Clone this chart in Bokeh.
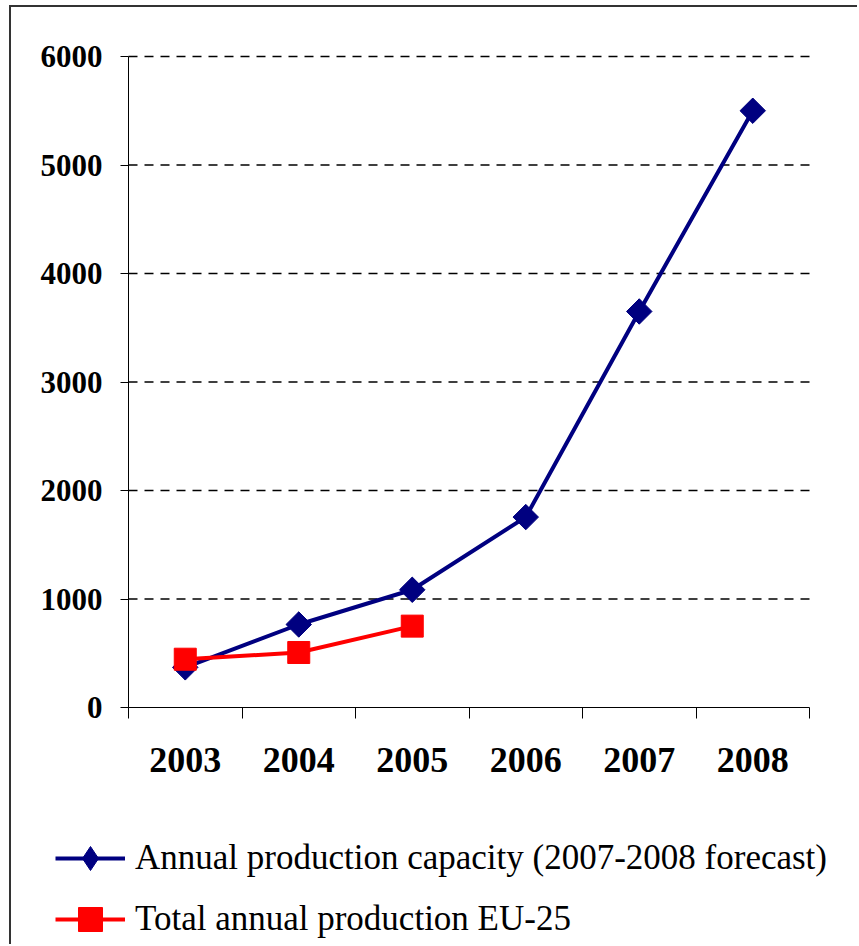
from math import pi

from bokeh.embed import file_html
from bokeh.models import FixedTicker, Legend, LegendItem, LinearAxis, Range1d
from bokeh.plotting import figure
from bokeh.resources import INLINE

# Categories and values
years = ["2003", "2004", "2005", "2006", "2007", "2008"]
capacity = [370, 765, 1085, 1755, 3650, 5500]      # annual production capacity
production = [445, 507, 750]                        # total annual production EU-25
y_ticks = [0, 1000, 2000, 3000, 4000, 5000, 6000]

NAVY = "#000080"
RED = "#FF0000"
SERIF = "Liberation Serif"

# canvas and plotting-box geometry (pixels); the frame fills the whole canvas so
# the legend underneath the axes is not clipped
W, H = 848, 939
BOX_LEFT, BOX_RIGHT = 117, 798
BOX_TOP, BOX_BOTTOM = 49, 700
y_max = 6000

n = len(years)
px_x = (BOX_RIGHT - BOX_LEFT) / n
px_y = (BOX_BOTTOM - BOX_TOP) / y_max
x_range = Range1d(-BOX_LEFT / px_x, n + (W - BOX_RIGHT) / px_x)
y_range = Range1d(-(H - BOX_BOTTOM) / px_y, y_max + BOX_TOP / px_y)

# category centres on a numeric axis so the tick marks can sit between them
x_cap = [i + 0.5 for i in range(len(capacity))]
x_prod = [i + 0.5 for i in range(len(production))]

p = figure(
    width=W, height=H,
    min_border=0,
    x_range=x_range, y_range=y_range,
    x_axis_location=None, y_axis_location=None,
    output_backend="svg", toolbar_location=None,
)
# thin rule along the top and left edges of the chart box
p.styles = {
    "margin-left": "9px", "margin-top": "5px",
    "border-left": "2px solid #333333", "border-top": "2px solid #333333",
}
p.outline_line_color = None
p.background_fill_color = "white"
p.border_fill_color = "white"
p.xgrid.visible = False
p.ygrid.visible = False

# x axis: labels in the middle of each category, tick marks on the boundaries
xaxis = LinearAxis(
    fixed_location=0, bounds=(0, n),
    ticker=FixedTicker(ticks=x_cap, minor_ticks=list(range(n + 1))),
    major_label_overrides={x: y for x, y in zip(x_cap, years)},
    major_tick_out=0, major_tick_in=0,
    minor_tick_out=11, minor_tick_in=0, minor_tick_line_color="black",
    axis_line_color="black",
    major_label_text_font=SERIF, major_label_text_font_style="bold",
    major_label_text_font_size="36px", major_label_text_color="black",
    major_label_standoff=29,
)
p.add_layout(xaxis, "below")

# y axis
yaxis = LinearAxis(
    fixed_location=0, bounds=(0, y_max),
    ticker=FixedTicker(ticks=y_ticks, minor_ticks=[]),
    major_tick_out=8, major_tick_in=0, major_tick_line_color="black",
    minor_tick_out=0, minor_tick_in=0,
    axis_line_color="black",
    major_label_text_font=SERIF, major_label_text_font_style="bold",
    major_label_text_font_size="31px", major_label_text_color="black",
    major_label_standoff=18,
)
p.add_layout(yaxis, "left")

# dashed horizontal gridlines across the plotting box
grid_y = y_ticks[1:]
p.segment(x0=[0] * len(grid_y), x1=[n] * len(grid_y), y0=grid_y, y1=grid_y,
          line_color="black", line_width=1.5, line_dash="9 7")

# capacity series: a diamond marker (also used for the legend key) sits under
# the square-on-point markers drawn on top of the line
cap_line = p.line(x_cap, capacity, line_color=NAVY, line_width=4)
cap_key = p.scatter(x_cap, capacity, marker="diamond", size=24,
                    fill_color=NAVY, line_color=NAVY)
cap_pts = p.scatter(x_cap, capacity, marker="square", size=18, angle=pi / 4,
                    fill_color=NAVY, line_color=NAVY)

# production series
prod_line = p.line(x_prod, production, line_color=RED, line_width=4)
prod_pts = p.scatter(x_prod, production, marker="square", size=22,
                     fill_color=RED, line_color=RED)

legend = Legend(
    items=[
        LegendItem(label="Annual production capacity (2007-2008 forecast)",
                   renderers=[cap_line, cap_key]),
        LegendItem(label="Total annual production EU-25",
                   renderers=[prod_line, prod_pts]),
    ],
    location=(44, -3),
    orientation="vertical",
    glyph_width=70, glyph_height=60,
    label_standoff=10, label_height=40,
    spacing=1, padding=0, margin=0,
    border_line_color=None, background_fill_alpha=0,
    label_text_font=SERIF, label_text_font_size="35px",
    label_text_color="black",
)
p.add_layout(legend, "center")

open("out.html", "w").write(file_html(p, INLINE))
